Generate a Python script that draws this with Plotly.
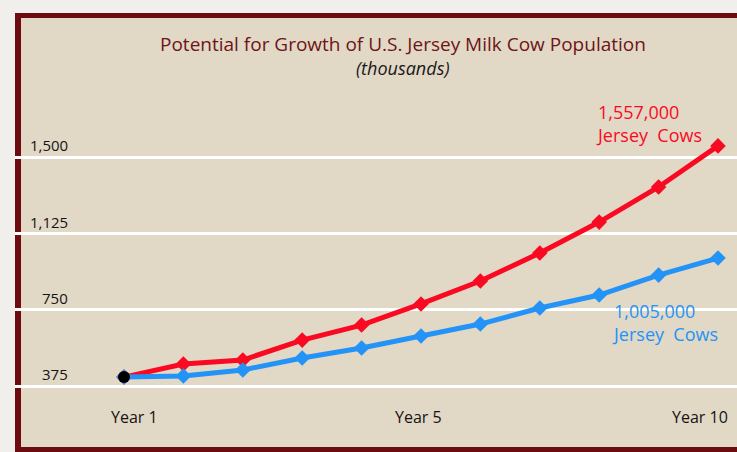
import plotly.graph_objects as go

# Projected U.S. Jersey milk cow population (thousands), one point per period
periods = list(range(11))
high_growth = [419, 483, 503, 601, 675, 779, 892, 1030, 1182, 1355, 1557]
low_growth = [419, 424, 454, 513, 562, 621, 680, 759, 823, 921, 1005]

y_ticks = [375, 750, 1125, 1500]
y_tick_text = ["375", "750", "1,125", "1,500"]
x_tick_pos = [0.17, 4.95, 9.69]
x_tick_text = ["Year 1", "Year 5", "Year 10"]

RED = "#fa0a22"
BLUE = "#2393f7"
BEIGE = "#e2d8c6"
BORDER = "#6c0b10"
FONT = "Open Sans"

fig = go.Figure()

fig.add_trace(go.Scatter(
    x=periods, y=high_growth, mode="lines+markers",
    line=dict(color=RED, width=5),
    marker=dict(symbol="diamond", size=12, color=RED),
    hoverinfo="skip",
))
fig.add_trace(go.Scatter(
    x=periods, y=low_growth, mode="lines+markers",
    line=dict(color=BLUE, width=5),
    marker=dict(symbol="diamond", size=12, color=BLUE),
    hoverinfo="skip",
))
# shared starting point
fig.add_trace(go.Scatter(
    x=periods[:1], y=low_growth[:1], mode="markers",
    marker=dict(symbol="circle", size=12, color="black"),
    hoverinfo="skip",
))

shapes = [
    # panel background
    dict(type="rect", xref="paper", yref="paper", x0=0, x1=1.05, y0=-0.05, y1=0.9712,
         fillcolor=BEIGE, line=dict(width=0), layer="below"),
    # frame: top, left, bottom
    dict(type="rect", xref="paper", yref="paper", x0=0, x1=1.05, y0=0.9602, y1=0.9712,
         fillcolor=BORDER, line=dict(width=0), layer="below"),
    dict(type="rect", xref="paper", yref="paper", x0=0, x1=0.0083, y0=-0.05, y1=0.9712,
         fillcolor=BORDER, line=dict(width=0), layer="below"),
    dict(type="rect", xref="paper", yref="paper", x0=0, x1=1.05, y0=-0.05, y1=0.0111,
         fillcolor=BORDER, line=dict(width=0), layer="below"),
]

annotations = [
    dict(text="Potential for Growth of U.S. Jersey Milk Cow Population",
         xref="paper", yref="paper", x=0.5375, y=1 - 44 / 452, xanchor="center", yanchor="middle",
         showarrow=False, font=dict(family=FONT, size=19, color="#6e1418")),
    dict(text="<i>(thousands)</i>",
         xref="paper", yref="paper", x=0.5375, y=1 - 68 / 452, xanchor="center", yanchor="middle",
         showarrow=False, font=dict(family=FONT, size=18, color="#1a1a1a")),
    dict(text="1,557,000<br>Jersey  Cows", x=periods[-1], y=high_growth[-1],
         xanchor="left", yanchor="middle", xshift=-124, yshift=22, align="left",
         showarrow=False, font=dict(family=FONT, size=18, color=RED)),
    dict(text="1,005,000<br>Jersey  Cows", x=periods[-1], y=low_growth[-1],
         xanchor="left", yanchor="middle", xshift=-108, yshift=-64, align="left",
         showarrow=False, font=dict(family=FONT, size=18, color=BLUE)),
]

for v, t in zip(y_ticks, y_tick_text):
    annotations.append(dict(text=t, xref="paper", yref="y", x=0.0762, y=v,
                            xanchor="right", yanchor="middle", yshift=12, showarrow=False,
                            font=dict(family=FONT, size=15, color="#141414")))

for xp, t in zip(x_tick_pos, x_tick_text):
    annotations.append(dict(text=t, xref="x", yref="paper", x=xp, y=1 - 417 / 452,
                            xanchor="center", yanchor="middle", showarrow=False,
                            font=dict(family=FONT, size=16, color="#141414")))

fig.update_layout(
    width=737, height=452,
    margin=dict(l=15, r=0, t=0, b=0),
    paper_bgcolor="#f1efeb",
    plot_bgcolor="rgba(0,0,0,0)",
    showlegend=False,
    shapes=shapes,
    annotations=annotations,
    xaxis=dict(range=[-1.835, 10.32], showgrid=False, zeroline=False,
               showticklabels=False, fixedrange=True),
    yaxis=dict(range=[50.1, 2275.3], tickvals=y_ticks, showgrid=True,
               gridcolor="white", gridwidth=3, zeroline=False,
               showticklabels=False, fixedrange=True),
)

fig.write_html("out.html", config={"displayModeBar": False})
